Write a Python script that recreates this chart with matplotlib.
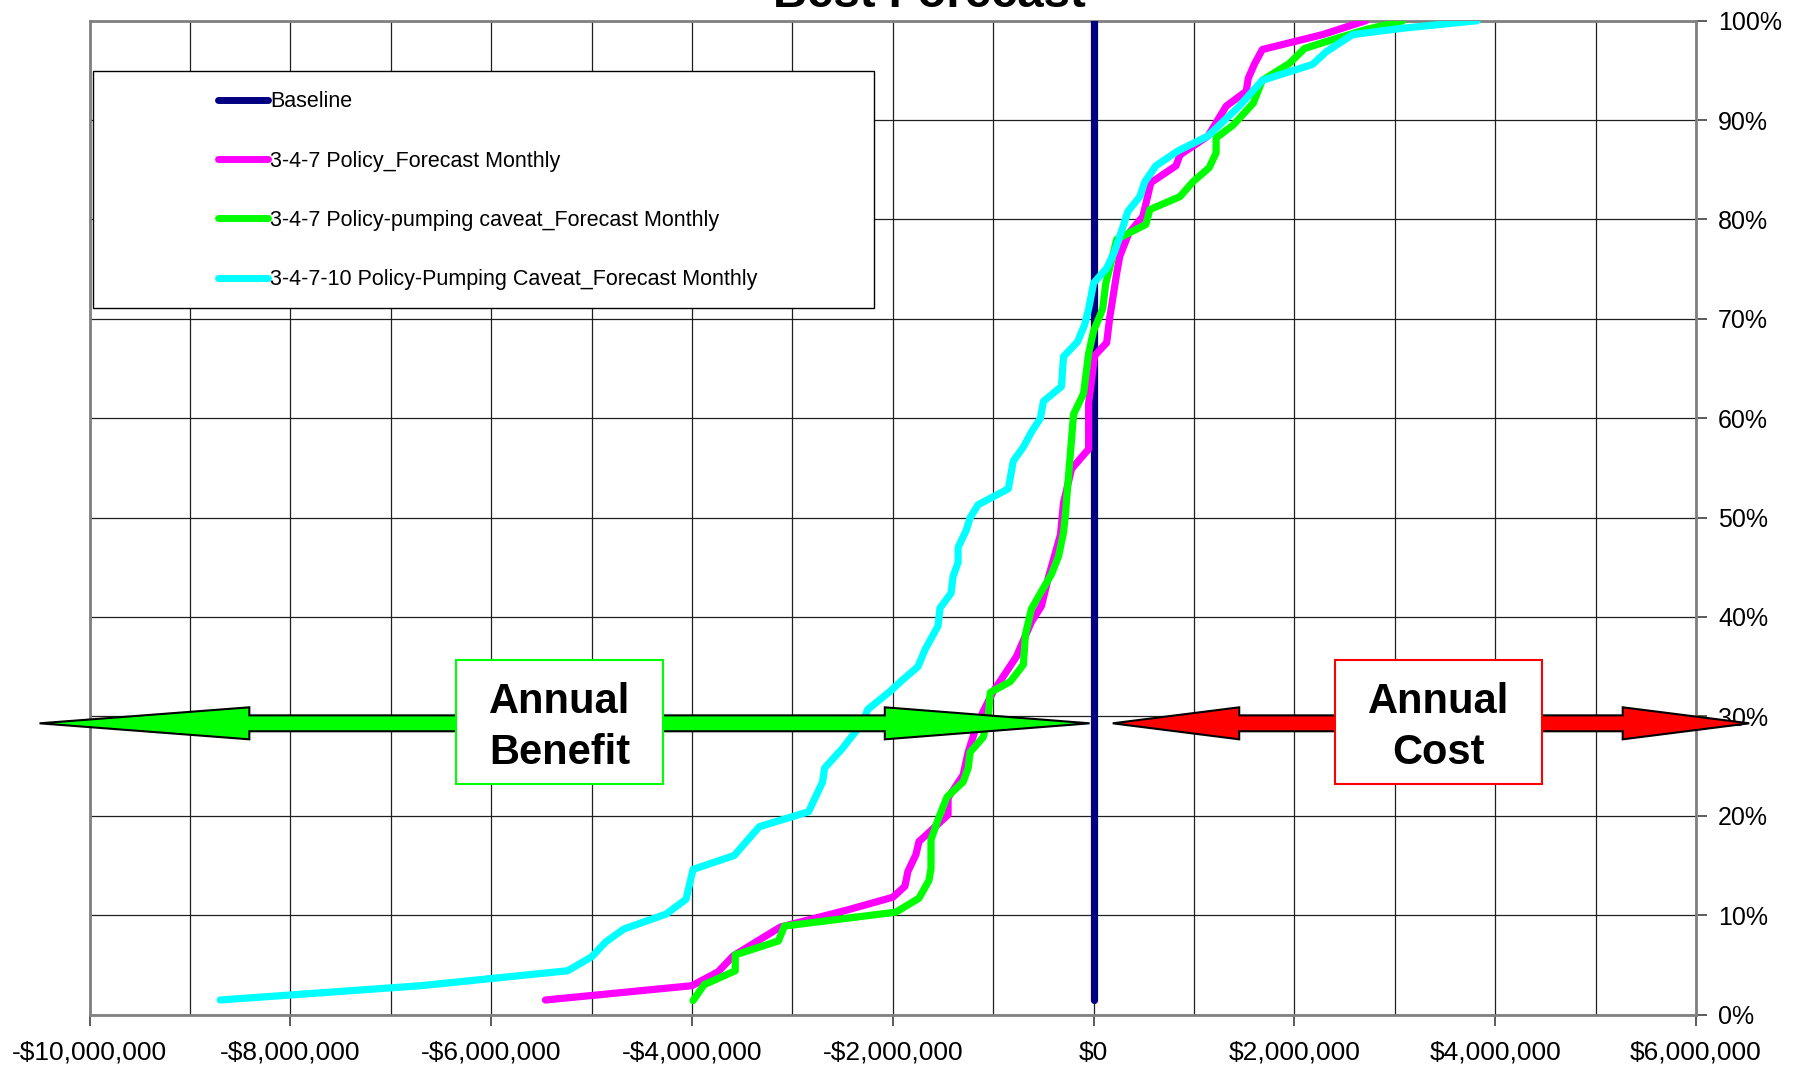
import numpy as np
import matplotlib.pyplot as plt
from matplotlib.patches import Polygon, Rectangle
from matplotlib.ticker import FuncFormatter

plt.rcParams["font.family"] = ["Liberation Sans", "DejaVu Sans"]

# annual cost (million $) vs cumulative percent
baseline_x = [0.0, 0.0]
baseline_y = [1.46, 100.0]

policy_x = [-5.46, -4.0, -3.74, -3.59, -3.12, -2.46, -2.0, -1.88, -1.85, -1.77,
            -1.74, -1.61, -1.45, -1.45, -1.30, -1.25, -1.18, -1.10, -1.0, -0.77,
            -0.62, -0.52, -0.45, -0.33, -0.30, -0.22, -0.05, -0.05, 0.01, 0.13,
            0.16, 0.23, 0.26, 0.35, 0.49, 0.57, 0.82, 0.86, 1.14, 1.32,
            1.52, 1.54, 1.60, 1.68, 2.28, 2.71]
policy_y = [1.46, 2.9, 4.3, 5.9, 8.8, 10.5, 11.8, 12.9, 14.4, 16.1,
            17.4, 18.6, 20.1, 21.8, 24.1, 26.4, 28.6, 30.5, 32.5, 36.0,
            39.5, 41.1, 44.0, 48.3, 51.5, 54.9, 56.9, 61.5, 66.3, 67.6,
            70.1, 74.6, 76.3, 78.6, 80.3, 83.7, 85.4, 86.5, 88.4, 91.4,
            92.9, 94.2, 95.6, 97.1, 98.6, 100.0]

caveat_x = [-3.99, -3.88, -3.57, -3.57, -3.14, -3.08, -1.97, -1.74, -1.64, -1.62,
            -1.62, -1.55, -1.46, -1.30, -1.25, -1.23, -1.10, -1.05, -1.03, -0.83,
            -0.70, -0.68, -0.62, -0.53, -0.42, -0.35, -0.30, -0.28, -0.25, -0.22,
            -0.20, -0.10, -0.05, 0.0, 0.09, 0.12, 0.23, 0.52, 0.56, 0.86,
            0.99, 1.15, 1.22, 1.22, 1.39, 1.59, 1.68, 1.95, 2.10, 2.38,
            2.71, 3.08]
caveat_y = [1.4, 3.0, 4.4, 6.0, 7.4, 8.9, 10.3, 11.7, 13.5, 14.7,
            17.6, 19.6, 21.9, 23.4, 24.8, 26.4, 27.9, 30.0, 32.4, 33.5,
            35.2, 38.2, 40.8, 42.4, 44.3, 46.1, 48.5, 50.5, 54.2, 57.9,
            60.4, 62.5, 66.5, 68.8, 71.0, 73.5, 78.0, 79.5, 81.0, 82.3,
            83.8, 85.2, 86.7, 88.2, 89.5, 91.7, 94.0, 95.7, 97.2, 98.1,
            99.1, 100.0]

caveat10_x = [-8.70, -6.70, -5.24, -5.0, -4.86, -4.68, -4.26, -4.06, -3.99, -3.58,
              -3.33, -2.84, -2.70, -2.68, -2.50, -2.30, -2.25, -2.03, -1.90, -1.75,
              -1.68, -1.55, -1.53, -1.42, -1.40, -1.35, -1.35, -1.27, -1.23, -1.15,
              -0.85, -0.80, -0.70, -0.62, -0.53, -0.50, -0.32, -0.30, -0.16, -0.09,
              -0.05, 0.0, 0.13, 0.21, 0.29, 0.34, 0.46, 0.51, 0.62, 0.84,
              1.14, 1.45, 1.68, 2.18, 2.32, 2.58, 3.04, 3.82]
caveat10_y = [1.46, 2.9, 4.4, 5.8, 7.3, 8.6, 10.1, 11.6, 14.6, 16.0,
              18.9, 20.4, 23.4, 24.8, 26.8, 29.4, 30.7, 32.5, 33.7, 35.0,
              36.7, 39.1, 40.9, 42.4, 44.1, 45.5, 47.0, 48.7, 50.0, 51.3,
              52.9, 55.7, 57.1, 58.6, 60.0, 61.7, 63.2, 66.2, 67.7, 69.4,
              71.0, 73.6, 75.1, 76.8, 79.2, 80.8, 82.3, 83.8, 85.4, 86.9,
              88.4, 91.4, 94.0, 95.6, 96.9, 98.6, 99.2, 100.0]

labels = ["Baseline",
          "3-4-7 Policy_Forecast Monthly",
          "3-4-7 Policy-pumping caveat_Forecast Monthly",
          "3-4-7-10 Policy-Pumping Caveat_Forecast Monthly"]
colors = ["#000080", "#FF00FF", "#00FF00", "#00FFFF"]

x_ticks = np.arange(-10, 7, 2)
y_ticks = np.arange(0, 101, 10)


def dollar_fmt(v, pos):
    v = int(round(v * 1e6))
    if v < 0:
        return f"-${-v:,}"
    return f"${v:,}"


def block_arrow(x0, x1, yc, head_left, head_right, head_half, shaft_half):
    return [
        (x0, yc),
        (x0 + head_left, yc + head_half),
        (x0 + head_left, yc + shaft_half),
        (x1 - head_right, yc + shaft_half),
        (x1 - head_right, yc + head_half),
        (x1, yc),
        (x1 - head_right, yc - head_half),
        (x1 - head_right, yc - shaft_half),
        (x0 + head_left, yc - shaft_half),
        (x0 + head_left, yc - head_half),
    ]


fig = plt.figure(figsize=(18.03, 10.70), dpi=100)
W, H = 1803, 1070
ax = fig.add_axes([89.7 / W, 1 - 1014.5 / H, (1696 - 89.7) / W, (1014.5 - 20.7) / H])

ax.set_xlim(-10, 6)
ax.set_ylim(0, 100)

line_kw = dict(lw=5.2, solid_capstyle="round", solid_joinstyle="round", zorder=3)
ax.plot(baseline_x, baseline_y, color=colors[0], label=labels[0], **line_kw)
ax.plot(policy_x, policy_y, color=colors[1], label=labels[1], **line_kw)
ax.plot(caveat_x, caveat_y, color=colors[2], label=labels[2], **line_kw)
ax.plot(caveat10_x, caveat10_y, color=colors[3], label=labels[3], **line_kw)

# axes styling
ax.yaxis.tick_right()
ax.set_xticks(x_ticks)
ax.set_xticks(np.arange(-9, 6, 2), minor=True)
ax.set_yticks(y_ticks)
ax.xaxis.set_major_formatter(FuncFormatter(dollar_fmt))
ax.yaxis.set_major_formatter(FuncFormatter(lambda v, p: f"{v:.0f}%"))
ax.tick_params(axis="x", which="major", direction="out", length=8, width=1.2,
               color="#404040", labelsize=19, pad=11)
ax.tick_params(axis="x", which="minor", length=0)
ax.tick_params(axis="y", direction="out", length=8, width=1.2,
               color="#404040", labelsize=18, pad=8)
ax.grid(which="both", color="#202020", lw=0.9, zorder=0)
ax.set_axisbelow(True)
for s in ax.spines.values():
    s.set_color("#808080")
    s.set_linewidth(2)

# legend box + entries
ax.add_patch(Rectangle((-9.97, 71.1), 7.78, 23.8, facecolor="white",
                       edgecolor="black", lw=1.0, zorder=4))
leg = ax.legend(loc="upper left", bbox_to_anchor=(-8.72, 92.9),
                bbox_transform=ax.transData, frameon=False, fontsize=15.5,
                handlelength=2.3, handletextpad=0.1, labelspacing=1.78,
                borderpad=0, borderaxespad=0)
leg.set_zorder(5)
for h in leg.get_lines():
    h.set_linewidth(5)
    h.set_solid_capstyle("round")

# benefit / cost arrows
yc = 29.3
green = Polygon(block_arrow(-10.5, -0.04, yc, 2.09, 2.04, 1.61, 0.8),
                closed=True, facecolor="#00FF00", edgecolor="black", lw=1.5,
                zorder=6, clip_on=False)
red = Polygon(block_arrow(0.19, 6.53, yc, 1.26, 1.26, 1.61, 0.8),
              closed=True, facecolor="#FF0000", edgecolor="black", lw=1.5,
              zorder=6, clip_on=False)
ax.add_patch(green)
ax.add_patch(red)

ax.add_patch(Rectangle((-6.35, 23.2), 2.06, 12.5, facecolor="white",
                       edgecolor="#00FF00", lw=1.5, zorder=7, clip_on=False))
ax.add_patch(Rectangle((2.40, 23.2), 2.07, 12.5, facecolor="white",
                       edgecolor="#FF0000", lw=1.5, zorder=7, clip_on=False))
ax.text(-5.32, 28.9, "Annual\nBenefit", ha="center", va="center", fontsize=30,
        fontweight="bold", linespacing=1.36, zorder=8)
ax.text(3.435, 28.9, "Annual\nCost", ha="center", va="center", fontsize=30,
        fontweight="bold", linespacing=1.36, zorder=8)

fig.text(929 / W, 1 - 7 / H, "Best Forecast", ha="center", va="baseline",
         fontsize=34, fontweight="bold")

fig.savefig("out.png", dpi=100)
